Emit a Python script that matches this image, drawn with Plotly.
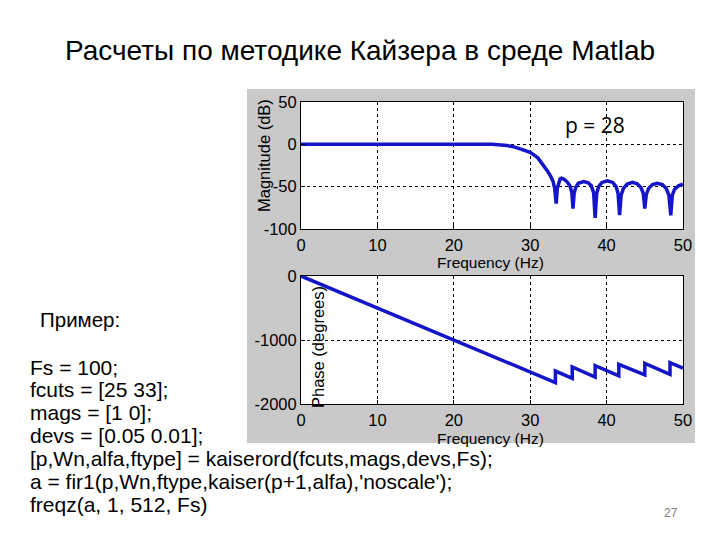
import plotly.graph_objects as go

# the page puts the plot 8px in from the top-left corner
OFF = 8
W, H = 720 - OFF, 540 - OFF

# magnitude response (Hz, dB)
mag_freq = [0, 2, 4, 6, 8, 10, 12, 14, 16, 18, 20, 22, 24, 25, 26, 27, 28, 29, 30, 31, 31.7, 32.3, 32.7,
            33.0, 33.2, 33.4, 33.55, 33.7, 33.9, 34.1, 34.4, 34.8, 35.2, 35.45, 35.6,
            35.75, 35.95, 36.3, 37.0, 37.6, 38.0, 38.3, 38.5,
            38.7, 38.95, 39.4, 40.1, 40.8, 41.25, 41.5, 41.7,
            41.9, 42.2, 42.7, 43.4, 44.0, 44.5, 44.8, 45.0,
            45.2, 45.5, 46.0, 46.6, 47.3, 47.8, 48.15, 48.4,
            48.6, 48.9, 49.4, 50]
mag_db = [0, 0.3, 0, 0.2, 0, 0.3, 0, 0.2, 0, 0.3, 0, 0.2, 0.2, 0, -0.5, -1.5, -3.3, -6, -9.5, -16, -24, -32, -38,
          -44, -52, -70, -52, -45, -41, -40, -41, -44, -49, -57, -76,
          -58, -51, -46, -44, -45.5, -49, -57, -87,
          -58, -50, -45, -43, -45, -50, -58, -83.5,
          -60, -52, -47, -45, -46.5, -51, -58, -76,
          -59, -52, -47.5, -46, -47.5, -52, -60, -84,
          -60, -53, -49, -47]

# phase response (Hz, degrees)
phase_freq = [0, 33.3, 33.3, 35.5, 35.5, 38.5, 38.5, 41.6, 41.6, 45.0, 45.0, 48.3, 48.3, 50]
phase_deg = [0, -1665, -1485, -1600, -1420, -1580, -1400, -1560, -1380, -1545, -1365, -1535, -1355, -1440]

x_ticks = [0, 10, 20, 30, 40, 50]
mag_ticks = [50, 0, -50, -100]
phase_ticks = [0, -1000, -2000]

title = "Расчеты по методике Кайзера в среде Matlab"
code_lines = [
    "Fs = 100;",
    "fcuts = [25 33];",
    "mags = [1 0];",
    "devs = [0.05 0.01];",
    "[p,Wn,alfa,ftype] = kaiserord(fcuts,mags,devs,Fs);",
    "a = fir1(p,Wn,ftype,kaiser(p+1,alfa),'noscale');",
    "freqz(a, 1, 512, Fs)",
]


# slide pixel -> paper fraction
def px(x):
    return (x - OFF) / W


def py(y):
    return 1 - (y - OFF) / H


LINE = dict(color="#1414c8", width=3.5)
TICKFONT = dict(family="Liberation Sans, Arial", size=16.5, color="black")

fig = go.Figure()
fig.add_trace(go.Scatter(x=mag_freq, y=mag_db, mode="lines", line=LINE, xaxis="x", yaxis="y"))
fig.add_trace(go.Scatter(x=phase_freq, y=phase_deg, mode="lines", line=LINE, xaxis="x2", yaxis="y2"))

common_x = dict(range=[0, 50], tickvals=x_ticks, ticktext=[str(v) for v in x_ticks],
                showgrid=True, gridcolor="black", griddash="dot", gridwidth=1,
                showline=True, mirror=True, linecolor="black", linewidth=1,
                ticks="inside", ticklen=4, tickcolor="black", tickfont=TICKFONT,
                ticklabelstandoff=1,
                zeroline=False, automargin=False, domain=[px(301), px(683)])
common_y = dict(showgrid=True, gridcolor="black", griddash="dot", gridwidth=1,
                showline=True, mirror=True, linecolor="black", linewidth=1,
                ticks="inside", ticklen=4, tickcolor="black", tickfont=TICKFONT,
                zeroline=False, automargin=False)

shapes = [
    dict(type="rect", xref="paper", yref="paper", x0=px(247), x1=px(695), y0=py(443), y1=py(89),
         fillcolor="#c9c9c9", line=dict(width=0), layer="below"),
    dict(type="rect", xref="x domain", yref="y domain", x0=0, x1=1, y0=0, y1=1,
         fillcolor="white", line=dict(width=0), layer="below"),
    dict(type="rect", xref="x2 domain", yref="y2 domain", x0=0, x1=1, y0=0, y1=1,
         fillcolor="white", line=dict(width=0), layer="below"),
]

annotations = [
    dict(text=title, x=px(360), y=py(50), font=dict(size=28)),
    dict(text="Пример:", x=px(38), y=py(319), xanchor="left", font=dict(size=20.5)),
    dict(text="p = 28", x=px(595), y=py(125), font=dict(family="Open Sans", size=21)),
    dict(text="27", x=px(671), y=py(513), font=dict(size=12, color="#808080")),
    dict(text="Magnitude (dB)", x=px(264), y=py(156), textangle=-90, font=dict(size=16.5)),
    dict(text="Phase (degrees)", x=px(318), y=py(347), textangle=-90, font=dict(size=16.5)),
    dict(text="Frequency (Hz)", x=px(490), y=py(262), font=dict(size=15.5)),
    dict(text="Frequency (Hz)", x=px(490), y=py(438), font=dict(size=15.5)),
]
for i, line in enumerate(code_lines):
    annotations.append(dict(text=line, x=px(28), y=py(367 + i * 22.9), xanchor="left", font=dict(size=21)))
for a in annotations:
    a.setdefault("xref", "paper")
    a.setdefault("yref", "paper")
    a.setdefault("showarrow", False)
    a.setdefault("xanchor", "center")
    a.setdefault("yanchor", "middle")
    a["font"] = dict(dict(family="Liberation Sans, Arial", color="black"), **a["font"])

fig.update_layout(
    width=W, height=H,
    margin=dict(l=0, r=0, t=0, b=0, pad=0, autoexpand=False),
    paper_bgcolor="white",
    plot_bgcolor="rgba(0,0,0,0)",
    showlegend=False,
    xaxis=dict(common_x, anchor="y"),
    yaxis=dict(common_y, range=[-100, 50], tickvals=mag_ticks, ticktext=[str(v) for v in mag_ticks],
               domain=[py(229), py(102)], anchor="x"),
    xaxis2=dict(common_x, anchor="y2"),
    yaxis2=dict(common_y, range=[-2000, 0], tickvals=phase_ticks, ticktext=[str(v) for v in phase_ticks],
                domain=[py(404), py(276)], anchor="x2"),
    shapes=shapes,
    annotations=annotations,
)

fig.write_html("out.html")
